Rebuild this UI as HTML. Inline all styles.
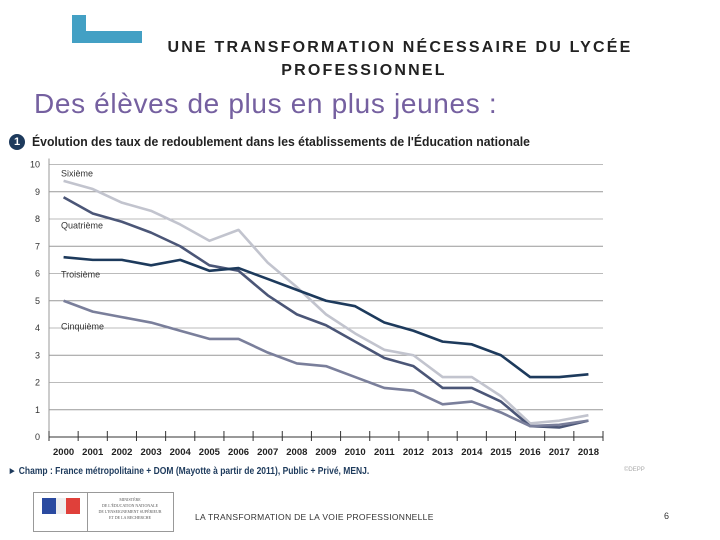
<!DOCTYPE html>
<html><head><meta charset="utf-8"><style>
body{margin:0;width:720px;height:540px;background:#fff;position:relative;font-family:"Liberation Sans",sans-serif;overflow:hidden}
.abs{position:absolute}
</style></head><body>
<div class="abs" style="left:72px;top:15px;width:14px;height:28px;background:#43a0c4"></div>
<div class="abs" style="left:72px;top:31px;width:70px;height:12px;background:#43a0c4"></div>
<div class="abs" style="left:150px;top:36px;width:500px;text-align:center;font-size:16px;font-weight:bold;letter-spacing:2.2px;line-height:23px;color:#222;white-space:nowrap">UNE TRANSFORMATION NÉCESSAIRE DU LYCÉE</div>
<div class="abs" style="left:264px;top:59px;width:200px;text-align:center;font-size:16px;font-weight:bold;letter-spacing:2.2px;line-height:23px;color:#222">PROFESSIONNEL</div>
<div class="abs" style="left:34px;top:88px;font-size:28px;color:#7560a0;letter-spacing:0.65px">Des élèves de plus en plus jeunes :</div>
<div class="abs" style="left:9px;top:134px;width:16px;height:16px;border-radius:50%;background:#1d3a5c;color:#fff;font-size:11px;font-weight:bold;text-align:center;line-height:16px">1</div>
<div class="abs" style="left:32px;top:134px;font-size:13px;font-weight:bold;color:#222;transform:scaleX(0.94);transform-origin:left">Évolution des taux de redoublement dans les établissements de l'Éducation nationale</div>
<svg class="abs" style="left:0;top:0" width="720" height="540">
<g id="grid"></g><g id="lines"></g><g id="labels"></g>
</svg>
<div class="abs" style="left:8px;top:466px;font-size:10px;font-weight:bold;color:#1d3a5c;transform:scaleX(0.85);transform-origin:left">► Champ : France métropolitaine + DOM (Mayotte à partir de 2011), Public + Privé, MENJ.</div>
<div class="abs" style="left:624px;top:467px;font-size:6px;color:#aaa">©DEPP</div>
<div class="abs" style="left:33px;top:492px;width:139px;height:38px;border:1px solid #999;background:#fff">
 <div style="position:absolute;left:8px;top:5px;width:14px;height:16px;background:#2a4aa0"></div>
 <div style="position:absolute;left:22px;top:5px;width:10px;height:16px;background:#eee"></div>
 <div style="position:absolute;left:32px;top:5px;width:14px;height:16px;background:#e0403a"></div>
 <div style="position:absolute;left:53px;top:0;width:1px;height:38px;background:#999"></div>
 <div style="position:absolute;left:56px;top:4px;width:80px;font-size:4px;line-height:6px;text-align:center;color:#555;font-family:'Liberation Serif',serif">MINISTÈRE<br>DE L'ÉDUCATION NATIONALE<br>DE L'ENSEIGNEMENT SUPÉRIEUR<br>ET DE LA RECHERCHE</div>
</div>
<div class="abs" style="left:195px;top:512px;font-size:8.5px;color:#333;letter-spacing:0.3px">LA TRANSFORMATION DE LA VOIE PROFESSIONNELLE</div>
<div class="abs" style="left:664px;top:511px;font-size:9px;color:#333">6</div>
<script>
const years=[2000,2001,2002,2003,2004,2005,2006,2007,2008,2009,2010,2011,2012,2013,2014,2015,2016,2017,2018];
const yTicks=[0,1,2,3,4,5,6,7,8,9,10];
const seriesNames=["Sixième","Quatrième","Cinquième","Troisième"];
const sixieme=[9.4,9.1,8.6,8.3,7.8,7.2,7.6,6.4,5.5,4.5,3.8,3.2,3.0,2.2,2.2,1.5,0.5,0.6,0.8];
const quatrieme=[8.8,8.2,7.9,7.5,7.0,6.3,6.1,5.2,4.5,4.1,3.5,2.9,2.6,1.8,1.8,1.3,0.4,0.35,0.6];
const cinquieme=[5.0,4.6,4.4,4.2,3.9,3.6,3.6,3.1,2.7,2.6,2.2,1.8,1.7,1.2,1.3,0.9,0.4,0.45,0.6];
const troisieme=[6.6,6.5,6.5,6.3,6.5,6.1,6.2,5.8,5.4,5.0,4.8,4.2,3.9,3.5,3.4,3.0,2.2,2.2,2.3];
const NS="http://www.w3.org/2000/svg";
const x0=49,x1=603,y0=437,y10=164.5;
const step=(x1-x0)/years.length;
const xs=i=>x0+step*(i+0.5);
const ys=v=>y0-(y0-y10)*v/10;
const grid=document.getElementById('grid'),lines=document.getElementById('lines'),labels=document.getElementById('labels');
function mk(tag,attrs,parent){const e=document.createElementNS(NS,tag);for(const k in attrs)e.setAttribute(k,attrs[k]);parent.appendChild(e);return e;}
yTicks.forEach(t=>{
 if(t>0){const g=mk('line',{x1:x0,x2:x1,y1:ys(t),y2:ys(t),stroke:t%2? '#999':'#bbb','stroke-width':1},grid);
 
 }
 const tx=mk('text',{x:40,y:ys(t)+3,'font-size':9,'text-anchor':'end',fill:'#333'},labels);tx.textContent=t;
 
 
});
const ax=mk('line',{x1:x0,x2:x0,y1:y10-6,y2:y0,stroke:'#999'},grid);


const bx=mk('line',{x1:x0,x2:x1,y1:y0,y2:y0,stroke:'#333'},grid);


for(let i=0;i<=years.length;i++){const tk=mk('line',{x1:x0+step*i,x2:x0+step*i,y1:y0-6,y2:y0+4,stroke:'#333'},grid);
 
 }
years.forEach((y,i)=>{const tx=mk('text',{x:xs(i),y:y0+18,'font-size':9.5,'text-anchor':'middle',fill:'#222','font-weight':'bold'},labels);tx.textContent=y;
 
 });
const data=[sixieme,quatrieme,cinquieme,troisieme];
const colors=['#c2c4ce','#4b5677','#7a7f9b','#1d3a5c'];
const labelVals=[9.7,7.8,4.1,6.0];
data.forEach((d,si)=>{
 const p=mk('polyline',{points:d.map((v,i)=>xs(i)+','+ys(v)).join(' '),fill:'none',stroke:colors[si],'stroke-width':2.6,'stroke-linejoin':'round'},lines);
 
 
 const t=mk('text',{x:61,y:ys(labelVals[si])+4,'font-size':9,fill:'#333'},labels);t.textContent=seriesNames[si];
 
 
});
</script>
</body></html>
